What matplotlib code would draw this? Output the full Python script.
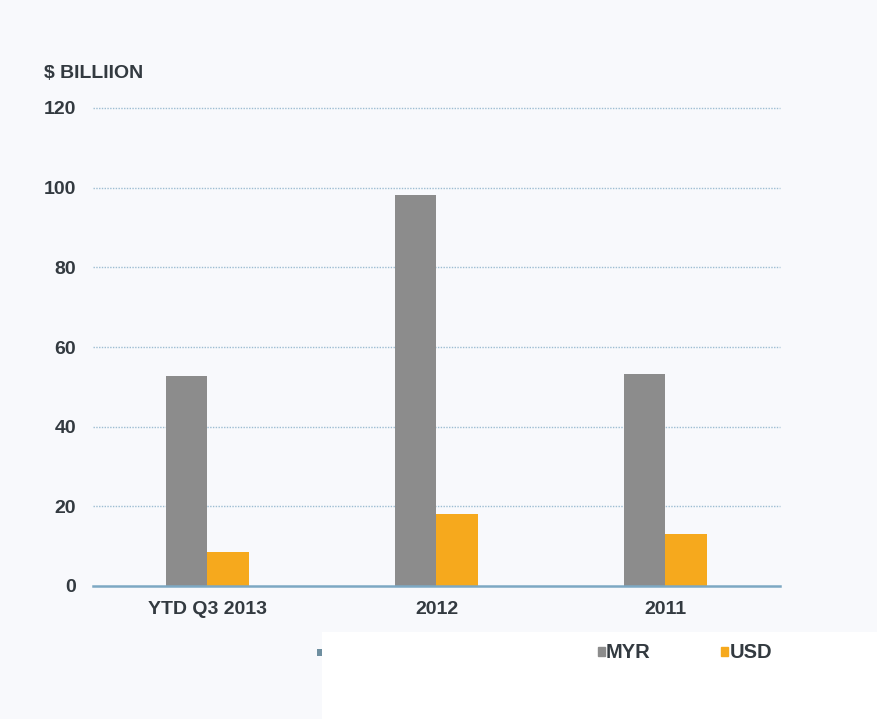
import matplotlib
matplotlib.use("Agg")
import matplotlib.pyplot as plt
from matplotlib.patches import Rectangle
import numpy as np

categories = ["YTD Q3 2013", "2012", "2011"]
myr = [52.8, 98.2, 53.3]
usd = [8.5, 18.1, 13.1]
yticks = [0, 20, 40, 60, 80, 100, 120]

plt.rcParams['font.family'] = ['Liberation Sans', 'DejaVu Sans']

W, H = 878, 719
fig = plt.figure(figsize=(W / 100, H / 100), dpi=100)
fig.patch.set_facecolor("#f8f9fc")

ax = fig.add_axes([93 / W, 1 - 586 / H, (780 - 93) / W, (586 - 108) / H])
ax.set_facecolor("#f8f9fc")

x = np.arange(len(categories))
bw = 0.18
gray = "#8c8c8c"
orange = "#f6a91d"
ax.bar(x - bw / 2, myr, bw, color=gray, zorder=3, label="MYR")
ax.bar(x + bw / 2, usd, bw, color=orange, zorder=3, label="USD")

ax.set_xlim(-0.5, 2.5)
ax.set_ylim(0, 120)
ax.set_yticks(yticks)
ax.set_xticks(x)
ax.set_xticklabels(categories)
for y in yticks[1:]:
    ax.axhline(y, color="#9dbdd2", lw=1.0, ls=(0, (1, 1)), zorder=1, clip_on=False)
ax.axhline(0, color="#7da8c3", lw=1.8, zorder=4, clip_on=False)

for s in ax.spines.values():
    s.set_visible(False)
fs = 14
ax.tick_params(length=0, labelsize=fs, labelcolor="#333a40")
ax.tick_params(axis="y", pad=12)
ax.tick_params(axis="x", pad=11)
for lab in ax.get_xticklabels() + ax.get_yticklabels():
    lab.set_fontweight("bold")

fig.text(44 / W, 1 - 73 / H, "\\$ BILLIION", fontsize=fs, fontweight="bold",
         color="#333a40", va="center", ha="left")

# white panel behind the legend
fig.patches.append(Rectangle((322 / W, 0), 1 - 322 / W, 1 - 632 / H,
                             transform=fig.transFigure, facecolor="white",
                             edgecolor="none", zorder=5))
# small marker peeking out at the panel edge
fig.patches.append(Rectangle((317 / W, 1 - 656 / H), 5 / W, 7 / H,
                             transform=fig.transFigure, facecolor="#6f8fa0",
                             edgecolor="none", zorder=4))

handles = [Rectangle((0, 0), 1, 1, color=gray), Rectangle((0, 0), 1, 1, color=orange)]
leg = fig.legend(handles, ["MYR", "USD"], loc="center left",
                 bbox_to_anchor=(590 / W, 1 - 653 / H), ncol=2, frameon=False,
                 handlelength=0.35, handleheight=0.35, handletextpad=0.05,
                 columnspacing=3.5, fontsize=14.5, borderaxespad=0)
leg.set_zorder(6)
for t in leg.get_texts():
    t.set_fontweight("bold")
    t.set_color("#333a40")

fig.savefig("out.png", dpi=100, facecolor=fig.get_facecolor())
